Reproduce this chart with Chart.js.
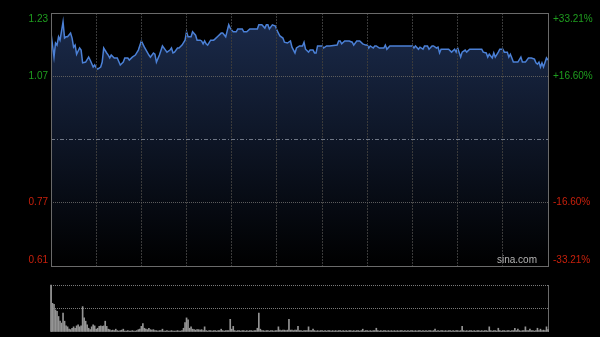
<!DOCTYPE html>
<html lang="zh-CN">
<head>
<meta charset="utf-8">
<title>分时走势</title>
<script src="https://cdn.jsdelivr.net/npm/chart.js@4"></script>
<style>
  html, body { margin: 0; padding: 0; background: #000; }
  #wrap { position: relative; width: 600px; height: 337px; overflow: hidden; }
  #priceChart { position: absolute; left: 0; top: 0; }
  #volChart { position: absolute; left: 0; top: 275px; }
</style>
</head>
<body>
<div id="wrap">
  <canvas id="priceChart" width="600" height="272"></canvas>
  <canvas id="volChart" width="600" height="62"></canvas>
</div>
<script>
// previous close and the % levels shown on both sides
const prevClose = 0.92;
const pctLevels = [33.21, 16.60, 0, -16.60, -33.21];

// HK session: 9:30-12:00 + 13:00-16:00 = 330 minutes, grid every 30 min
const sessionMinutes = 330;
const gridMinutes = [0, 30, 60, 90, 120, 150, 180, 210, 240, 270, 300, 330];

// minute of session -> last price
const minuteOfSession = [
  0, 2, 3, 4, 5, 6, 8, 9, 10, 11, 13, 14, 15, 16, 17, 19, 20, 21, 23, 25,
  26, 28, 29, 30, 31, 33, 34, 35, 37, 38, 39, 40, 42, 44, 46, 48, 49, 51, 52, 54,
  56, 58, 60, 62, 65, 66, 68, 69, 70, 72, 74, 76, 77, 79, 80, 81, 82, 84, 85, 87,
  89, 90, 91, 93, 94, 96, 97, 99, 100, 101, 102, 103, 104, 106, 108, 109, 111, 113, 114, 116,
  118, 119, 121, 123, 124, 127, 128, 130, 132, 137, 138, 140, 142, 143, 144, 145, 147, 149, 150, 152,
  154, 155, 157, 159, 160, 162, 163, 165, 167, 168, 169, 171, 172, 174, 175, 176, 177, 179, 180, 181,
  183, 185, 190, 191, 192, 193, 195, 198, 200, 201, 203, 205, 207, 209, 210, 211, 212, 214, 215, 216,
  218, 221, 222, 223, 225, 227, 240, 241, 242, 244, 245, 247, 248, 250, 251, 253, 254, 256, 257, 258,
  259, 262, 264, 266, 268, 269, 270, 272, 273, 275, 276, 278, 286, 287, 289, 290, 291, 293, 294, 295,
  297, 298, 300, 301, 303, 304, 305, 306, 307, 309, 310, 312, 313, 315, 317, 319, 321, 322, 323, 324,
  325, 326, 327, 329, 330
];
const prices = [
  1.177, 1.119, 1.153, 1.148, 1.168, 1.160, 1.204, 1.165, 1.168, 1.168, 1.177, 1.165, 1.143, 1.148, 1.126, 1.141, 1.136, 1.105, 1.107, 1.119,
  1.112, 1.095, 1.100, 1.093, 1.090, 1.095, 1.107, 1.141, 1.129, 1.124, 1.117, 1.124, 1.117, 1.117, 1.100, 1.107, 1.117, 1.117, 1.112, 1.119,
  1.124, 1.136, 1.158, 1.143, 1.124, 1.119, 1.129, 1.126, 1.107, 1.124, 1.146, 1.136, 1.131, 1.136, 1.141, 1.129, 1.131, 1.141, 1.141, 1.148,
  1.160, 1.180, 1.168, 1.168, 1.180, 1.172, 1.160, 1.160, 1.158, 1.151, 1.158, 1.151, 1.148, 1.160, 1.160, 1.163, 1.170, 1.177, 1.177, 1.168,
  1.197, 1.189, 1.180, 1.180, 1.187, 1.187, 1.180, 1.180, 1.187, 1.187, 1.197, 1.197, 1.189, 1.197, 1.197, 1.187, 1.197, 1.194, 1.184, 1.170,
  1.165, 1.155, 1.153, 1.158, 1.143, 1.129, 1.141, 1.146, 1.146, 1.155, 1.138, 1.131, 1.136, 1.136, 1.129, 1.129, 1.146, 1.146, 1.146, 1.141,
  1.146, 1.146, 1.148, 1.158, 1.158, 1.151, 1.158, 1.158, 1.155, 1.148, 1.158, 1.158, 1.151, 1.148, 1.148, 1.141, 1.146, 1.141, 1.146, 1.146,
  1.141, 1.141, 1.148, 1.138, 1.146, 1.146, 1.146, 1.141, 1.146, 1.138, 1.143, 1.138, 1.146, 1.146, 1.138, 1.146, 1.146, 1.141, 1.143, 1.129,
  1.138, 1.138, 1.138, 1.131, 1.138, 1.131, 1.141, 1.119, 1.131, 1.136, 1.131, 1.138, 1.138, 1.131, 1.129, 1.119, 1.126, 1.117, 1.129, 1.119,
  1.131, 1.138, 1.138, 1.131, 1.131, 1.119, 1.126, 1.117, 1.107, 1.107, 1.107, 1.119, 1.107, 1.107, 1.117, 1.117, 1.114, 1.105, 1.102, 1.107,
  1.095, 1.105, 1.095, 1.117, 1.112
];

// volume per minute (relative, first minute = 100)
const volumes = [
  100, 61, 59, 47, 44, 33, 23, 19, 40, 23,
  13, 11, 6, 5, 8, 11, 8, 13, 15, 11,
  13, 54, 30, 23, 15, 8, 5, 11, 15, 13,
  6, 8, 12, 13, 12, 13, 23, 12, 6, 5,
  3, 4, 3, 6, 3, 2, 3, 4, 6, 2,
  2, 3, 2, 2, 3, 2, 2, 3, 5, 6,
  12, 18, 8, 6, 5, 8, 5, 4, 5, 3,
  3, 2, 3, 3, 6, 2, 2, 3, 2, 2,
  3, 2, 2, 2, 3, 2, 2, 3, 8, 20,
  30, 26, 8, 11, 6, 5, 4, 5, 5, 4,
  5, 3, 11, 3, 2, 3, 3, 2, 3, 3,
  2, 3, 3, 6, 3, 2, 3, 3, 3, 27,
  6, 12, 3, 2, 3, 3, 2, 3, 3, 2,
  3, 2, 3, 3, 2, 3, 3, 8, 40, 6,
  3, 3, 2, 3, 3, 2, 3, 3, 2, 3,
  3, 11, 4, 3, 4, 4, 3, 4, 27, 4,
  4, 3, 4, 4, 12, 3, 3, 2, 3, 3,
  3, 11, 3, 3, 6, 3, 2, 3, 2, 3,
  3, 2, 3, 2, 3, 3, 2, 3, 2, 3,
  2, 3, 3, 2, 3, 2, 3, 2, 3, 3,
  2, 3, 2, 3, 3, 2, 3, 6, 2, 3,
  3, 2, 3, 2, 3, 3, 8, 3, 2, 3,
  2, 3, 3, 2, 3, 2, 3, 2, 3, 2,
  3, 2, 3, 3, 2, 3, 2, 3, 2, 3,
  3, 2, 3, 2, 3, 3, 2, 3, 2, 3,
  2, 3, 3, 2, 3, 6, 2, 3, 2, 3,
  3, 2, 3, 2, 3, 3, 2, 3, 2, 3,
  3, 2, 3, 12, 3, 2, 3, 2, 3, 3,
  2, 3, 2, 3, 3, 2, 3, 2, 3, 3,
  2, 11, 3, 2, 3, 3, 2, 8, 3, 2,
  3, 3, 2, 3, 3, 2, 3, 3, 8, 3,
  6, 3, 2, 3, 3, 11, 3, 3, 6, 3,
  3, 2, 3, 8, 3, 6, 3, 4, 3, 11,
  5
];
const volGrid = [0, 50, 100];

const levelPrice = pct => prevClose * (1 + pct / 100);
const yMax = levelPrice(pctLevels[0]);
const yMin = levelPrice(pctLevels[pctLevels.length - 1]);
const isEdge = v => Math.abs(v - yMax) < 1e-6 || Math.abs(v - yMin) < 1e-6;

const GREEN = '#1f9e1f';
const RED = '#c8200c';
const labelFont = '10px "Liberation Sans", Arial, sans-serif';

// frame, side labels (kept inside the box at the ends) and watermark
const priceFrame = {
    id: 'priceFrame',
    afterDraw(chart) {
        const { ctx, chartArea: a, scales: { y } } = chart;
        ctx.save();
        ctx.strokeStyle = '#6a6a6a';
        ctx.lineWidth = 1;
        ctx.strokeRect(a.left + 0.5, a.top + 0.5, a.right - a.left, a.bottom - a.top);

        ctx.font = labelFont;
        ctx.textBaseline = 'middle';
        pctLevels.forEach(pct => {
            if (pct === 0) return;
            let py = y.getPixelForValue(levelPrice(pct));
            py = Math.min(Math.max(py, a.top + 6), a.bottom - 6);
            ctx.fillStyle = pct > 0 ? GREEN : RED;
            ctx.textAlign = 'right';
            ctx.fillText(levelPrice(pct).toFixed(2), a.left - 3, py);
            ctx.textAlign = 'left';
            ctx.fillText((pct > 0 ? '+' : '') + pct.toFixed(2) + '%', a.right + 5, py);
        });

        ctx.fillStyle = '#b4b4b4';
        ctx.textAlign = 'right';
        ctx.textBaseline = 'bottom';
        ctx.fillText('sina.com', a.right - 11, a.bottom - 1);
        ctx.restore();
    }
};

const fillGradient = (c) => {
    const a = c.chart.chartArea;
    if (!a) return 'rgba(0,0,0,0)';
    const g = c.chart.ctx.createLinearGradient(0, a.top, 0, a.bottom);
    g.addColorStop(0, 'rgb(27,43,76)');
    g.addColorStop(1, 'rgb(0,0,0)');
    return g;
};

new Chart(document.getElementById('priceChart'), {
    type: 'line',
    data: {
        datasets: [{
            data: minuteOfSession.map((m, i) => ({ x: m, y: prices[i] })),
            borderColor: '#4b80d6',
            borderWidth: 1.5,
            pointRadius: 0,
            tension: 0,
            fill: 'start',
            backgroundColor: fillGradient
        }]
    },
    options: {
        responsive: false,
        animation: false,
        events: [],
        layout: { padding: { left: 51, right: 52, top: 13, bottom: 6 } },
        plugins: { legend: { display: false }, tooltip: { enabled: false } },
        scales: {
            x: {
                type: 'linear',
                min: 0,
                max: sessionMinutes,
                afterBuildTicks: s => { s.ticks = gridMinutes.map(v => ({ value: v })); },
                ticks: { display: false },
                border: { display: false, dash: [2, 1] },
                grid: {
                    drawTicks: false,
                    z: 1,
                    color: c => (c.tick.value === 0 || c.tick.value === sessionMinutes) ? 'rgba(0,0,0,0)' : '#3a3a3a'
                }
            },
            y: {
                min: yMin,
                max: yMax,
                afterBuildTicks: s => { s.ticks = pctLevels.map(p => ({ value: levelPrice(p) })); },
                ticks: { display: false },
                border: {
                    display: false,
                    dash: c => (c.tick && Math.abs(c.tick.value - prevClose) < 1e-6) ? [4, 2, 1, 2] : [1, 1]
                },
                grid: {
                    drawTicks: false,
                    z: 1,
                    color: c => {
                        if (isEdge(c.tick.value)) return 'rgba(0,0,0,0)';
                        return Math.abs(c.tick.value - prevClose) < 1e-6 ? '#6f7786' : '#5c5c5c';
                    }
                }
            }
        }
    },
    plugins: [priceFrame]
});

// volume panel sides, drawn under the bars so the first bar stays visible
const volFrame = {
    id: 'volFrame',
    beforeDatasetsDraw(chart) {
        const { ctx, chartArea: a } = chart;
        ctx.save();
        ctx.strokeStyle = '#6a6a6a';
        ctx.lineWidth = 1;
        ctx.beginPath();
        ctx.moveTo(a.left + 0.5, a.top);
        ctx.lineTo(a.left + 0.5, a.bottom);
        ctx.moveTo(a.right + 0.5, a.top);
        ctx.lineTo(a.right + 0.5, a.bottom);
        ctx.stroke();
        ctx.restore();
    }
};

new Chart(document.getElementById('volChart'), {
    type: 'bar',
    data: {
        datasets: [{
            data: volumes.map((v, i) => ({ x: i, y: v })),
            backgroundColor: '#949494',
            borderWidth: 0,
            barThickness: 1,
            clip: false
        }]
    },
    options: {
        responsive: false,
        animation: false,
        events: [],
        layout: { padding: { left: 51, right: 52, top: 10, bottom: 5 } },
        plugins: { legend: { display: false }, tooltip: { enabled: false } },
        scales: {
            x: { type: 'linear', min: 0, max: sessionMinutes, offset: false, display: false },
            y: {
                min: 0,
                max: 100,
                afterBuildTicks: s => { s.ticks = volGrid.map(v => ({ value: v })); },
                ticks: { display: false },
                border: { display: false, dash: [1, 1] },
                grid: {
                    drawTicks: false,
                    color: c => c.tick.value === 0 ? 'rgba(0,0,0,0)' : '#7a7a7a'
                }
            }
        }
    },
    plugins: [volFrame]
});
</script>
</body>
</html>
